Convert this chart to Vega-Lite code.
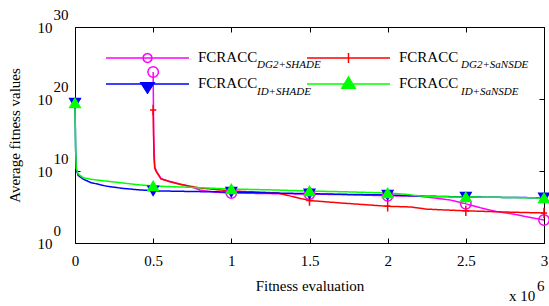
{
  "$schema": "https://vega.github.io/schema/vega-lite/v6.json",
  "width": 469,
  "height": 216,
  "autosize": {"type": "none"},
  "padding": {"left": 75, "top": 27, "right": 5, "bottom": 63},
  "background": "white",
  "config": {
    "view": {"stroke": "black", "strokeWidth": 1},
    "font": "Liberation Serif",
    "axis": {"labelFont": "Liberation Serif", "titleFont": "Liberation Serif", "labelColor": "black", "titleColor": "black", "tickColor": "black", "grid": false, "domain": false, "labelFontSize": 15, "titleFontSize": 15, "titleFontWeight": "normal", "tickSize": -5, "tickWidth": 1},
    "legend": {"labelFont": "Liberation Serif", "labelColor": "black"}
  },
  "datasets": {
    "curves": [
      {"series": "DG2+SHADE", "x": 500000, "y": 5.62e23},
      {"series": "DG2+SHADE", "x": 503000, "y": 1e15},
      {"series": "DG2+SHADE", "x": 510000, "y": 3.98e10},
      {"series": "DG2+SHADE", "x": 520000, "y": 1e10},
      {"series": "DG2+SHADE", "x": 550000, "y": 8.91e8},
      {"series": "DG2+SHADE", "x": 600000, "y": 3.98e8},
      {"series": "DG2+SHADE", "x": 670000, "y": 1.58e8},
      {"series": "DG2+SHADE", "x": 750000, "y": 5.62e7},
      {"series": "DG2+SHADE", "x": 800000, "y": 2.24e7},
      {"series": "DG2+SHADE", "x": 900000, "y": 1.12e7},
      {"series": "DG2+SHADE", "x": 1000000, "y": 8.71e6},
      {"series": "DG2+SHADE", "x": 1250000, "y": 7.24e6},
      {"series": "DG2+SHADE", "x": 1500000, "y": 6.31e6},
      {"series": "DG2+SHADE", "x": 1750000, "y": 5.01e6},
      {"series": "DG2+SHADE", "x": 2000000, "y": 3.63e6},
      {"series": "DG2+SHADE", "x": 2200000, "y": 3.16e6},
      {"series": "DG2+SHADE", "x": 2300000, "y": 1.78e6},
      {"series": "DG2+SHADE", "x": 2400000, "y": 9.33e5},
      {"series": "DG2+SHADE", "x": 2500000, "y": 2.82e5},
      {"series": "DG2+SHADE", "x": 2600000, "y": 7.08e4},
      {"series": "DG2+SHADE", "x": 2700000, "y": 2.24e4},
      {"series": "DG2+SHADE", "x": 2800000, "y": 1.07e4},
      {"series": "DG2+SHADE", "x": 2900000, "y": 3.98e3},
      {"series": "DG2+SHADE", "x": 3000000, "y": 1.55e3},
      {"series": "DG2+SaNSDE", "x": 500000, "y": 2.95e18},
      {"series": "DG2+SaNSDE", "x": 505000, "y": 1e12},
      {"series": "DG2+SaNSDE", "x": 510000, "y": 2.51e10},
      {"series": "DG2+SaNSDE", "x": 520000, "y": 7.94e9},
      {"series": "DG2+SaNSDE", "x": 550000, "y": 7.94e8},
      {"series": "DG2+SaNSDE", "x": 600000, "y": 3.55e8},
      {"series": "DG2+SaNSDE", "x": 670000, "y": 1.41e8},
      {"series": "DG2+SaNSDE", "x": 800000, "y": 4.37e7},
      {"series": "DG2+SaNSDE", "x": 1000000, "y": 1.66e7},
      {"series": "DG2+SaNSDE", "x": 1200000, "y": 1.12e7},
      {"series": "DG2+SaNSDE", "x": 1300000, "y": 8.71e6},
      {"series": "DG2+SaNSDE", "x": 1400000, "y": 2.51e6},
      {"series": "DG2+SaNSDE", "x": 1500000, "y": 7.94e5},
      {"series": "DG2+SaNSDE", "x": 1700000, "y": 3.63e5},
      {"series": "DG2+SaNSDE", "x": 2000000, "y": 1.26e5},
      {"series": "DG2+SaNSDE", "x": 2150000, "y": 1e5},
      {"series": "DG2+SaNSDE", "x": 2250000, "y": 5.01e4},
      {"series": "DG2+SaNSDE", "x": 2500000, "y": 2.95e4},
      {"series": "DG2+SaNSDE", "x": 2750000, "y": 2e4},
      {"series": "DG2+SaNSDE", "x": 3000000, "y": 1.48e4},
      {"series": "ID+SHADE", "x": 0, "y": 2.75e19},
      {"series": "ID+SHADE", "x": 4000, "y": 1e13},
      {"series": "ID+SHADE", "x": 8000, "y": 1.58e10},
      {"series": "ID+SHADE", "x": 20000, "y": 2.51e9},
      {"series": "ID+SHADE", "x": 50000, "y": 7.94e8},
      {"series": "ID+SHADE", "x": 100000, "y": 2.51e8},
      {"series": "ID+SHADE", "x": 200000, "y": 7.94e7},
      {"series": "ID+SHADE", "x": 300000, "y": 3.98e7},
      {"series": "ID+SHADE", "x": 400000, "y": 2.51e7},
      {"series": "ID+SHADE", "x": 500000, "y": 1.78e7},
      {"series": "ID+SHADE", "x": 750000, "y": 1.41e7},
      {"series": "ID+SHADE", "x": 1000000, "y": 1.2e7},
      {"series": "ID+SHADE", "x": 1250000, "y": 8.91e6},
      {"series": "ID+SHADE", "x": 1500000, "y": 7.08e6},
      {"series": "ID+SHADE", "x": 1750000, "y": 5.62e6},
      {"series": "ID+SHADE", "x": 2000000, "y": 4.68e6},
      {"series": "ID+SHADE", "x": 2250000, "y": 3.16e6},
      {"series": "ID+SHADE", "x": 2500000, "y": 2.51e6},
      {"series": "ID+SHADE", "x": 2750000, "y": 2.14e6},
      {"series": "ID+SHADE", "x": 3000000, "y": 1.91e6},
      {"series": "ID+SaNSDE", "x": 0, "y": 2.75e19},
      {"series": "ID+SaNSDE", "x": 4000, "y": 1e13},
      {"series": "ID+SaNSDE", "x": 8000, "y": 2.51e10},
      {"series": "ID+SaNSDE", "x": 20000, "y": 3.98e9},
      {"series": "ID+SaNSDE", "x": 50000, "y": 1.26e9},
      {"series": "ID+SaNSDE", "x": 100000, "y": 7.08e8},
      {"series": "ID+SaNSDE", "x": 200000, "y": 3.98e8},
      {"series": "ID+SaNSDE", "x": 300000, "y": 2.24e8},
      {"series": "ID+SaNSDE", "x": 400000, "y": 1.26e8},
      {"series": "ID+SaNSDE", "x": 500000, "y": 8.32e7},
      {"series": "ID+SaNSDE", "x": 750000, "y": 5.25e7},
      {"series": "ID+SaNSDE", "x": 1000000, "y": 3.16e7},
      {"series": "ID+SaNSDE", "x": 1250000, "y": 2.4e7},
      {"series": "ID+SaNSDE", "x": 1500000, "y": 1.66e7},
      {"series": "ID+SaNSDE", "x": 1750000, "y": 1.26e7},
      {"series": "ID+SaNSDE", "x": 2000000, "y": 8.71e6},
      {"series": "ID+SaNSDE", "x": 2100000, "y": 6.31e6},
      {"series": "ID+SaNSDE", "x": 2200000, "y": 3.55e6},
      {"series": "ID+SaNSDE", "x": 2300000, "y": 2.63e6},
      {"series": "ID+SaNSDE", "x": 2500000, "y": 2.45e6},
      {"series": "ID+SaNSDE", "x": 2750000, "y": 2.14e6},
      {"series": "ID+SaNSDE", "x": 3000000, "y": 1.78e6}
    ]
  },
  "layer": [
    {
      "data": {"name": "curves"},
      "mark": {"type": "line", "strokeWidth": 1.5},
      "encoding": {
        "x": {"field": "x", "type": "quantitative", "scale": {"domain": [0, 3000000], "nice": false, "zero": false},
          "axis": {"orient": "bottom", "values": [0, 500000, 1000000, 1500000, 2000000, 2500000, 3000000], "labelExpr": "'' + datum.value / 1000000", "labelPadding": 15, "labelFlush": false, "title": "Fitness evaluation", "titlePadding": 10}},
        "y": {"field": "y", "type": "quantitative", "scale": {"type": "log", "domain": [1, 1e30], "nice": false},
          "axis": {"orient": "left", "values": [1, 1e10, 1e20, 1e30], "labelExpr": "'10'", "labelPadding": 28, "title": "Average fitness values", "titlePadding": 15}},
        "stroke": {"field": "series", "type": "nominal",
          "scale": {"domain": ["DG2+SHADE", "DG2+SaNSDE", "ID+SHADE", "ID+SaNSDE"], "range": ["#ff00ff", "#ff0000", "#0000ff", "#00ff00"]},
          "legend": {"orient": "none", "direction": "horizontal", "legendX": 30, "legendY": 21, "title": null, "columns": 2, "columnPadding": 48, "rowPadding": 6, "clipHeight": 20,
            "symbolSize": 6889, "symbolStrokeWidth": 1.5, "labelExpr": "'FCRACC'", "labelFontSize": 15, "labelOffset": 8,
            "encode": {
              "symbols": {"update": {
                "size": {"value": 6889},
                "shape": {"signal": "datum.value === 'DG2+SHADE' ? 'M-1,0L1,0M0.108,0L0.0935,0.054L0.054,0.0935L0,0.108L-0.054,0.0935L-0.0935,0.054L-0.108,0L-0.0935,-0.054L-0.054,-0.0935L0,-0.108L0.054,-0.0935L0.0935,-0.054Z' : datum.value === 'DG2+SaNSDE' ? 'M-1,0L1,0M0,-0.12L0,0.12' : datum.value === 'ID+SHADE' ? 'M-1,0L1,0M-0.16,-0.03L0.16,-0.03L0,0.22Z' : 'M-1,0L1,0M-0.16,0.1L0.16,0.1L0,-0.17Z'"},
                "fill": {"signal": "datum.value === 'ID+SHADE' ? '#0000ff' : datum.value === 'ID+SaNSDE' ? '#00ff00' : 'transparent'"}
              }},
              "labels": {"update": {"dy": {"value": -1}}}
            }}},
        "strokeDash": {"field": "series", "type": "nominal", "scale": {"range": [[1, 0], [1, 0], [1, 0], [1, 0]]},
          "legend": {"orient": "none", "direction": "horizontal", "legendX": 171, "legendY": 28, "title": null, "columns": 2, "columnPadding": 129, "rowPadding": 7, "clipHeight": 20,
            "symbolSize": 0, "symbolOpacity": 0, "symbolStrokeWidth": 0, "labelOffset": 0, "labelFontSize": 11, "labelFontStyle": "italic"}}
      }
    },
    {
      "data": {"name": "curves"},
      "transform": [{"filter": "indexof([0, 500000, 1000000, 1500000, 2000000, 2500000, 3000000], datum.x) >= 0"}],
      "mark": {"type": "point", "strokeWidth": 1.5, "size": 110, "opacity": 1},
      "encoding": {
        "x": {"field": "x", "type": "quantitative", "axis": {"orient": "top", "values": [0, 500000, 1000000, 1500000, 2000000, 2500000, 3000000], "labels": false, "title": null}},
        "y": {"field": "y", "type": "quantitative", "axis": {"orient": "left", "values": [1, 1e10, 1e20, 1e30], "ticks": false, "labelExpr": "'' + round(log(datum.value) / LN10)", "labelAlign": "left", "labelPadding": 22, "labelOffset": -13, "title": null}},
        "stroke": {"field": "series", "type": "nominal"},
        "fill": {"field": "series", "type": "nominal", "scale": {"range": ["transparent", "transparent", "#0000ff", "#00ff00"]}, "legend": null},
        "shape": {"field": "series", "type": "nominal", "scale": {"range": ["circle", "M-0.6,0L0.6,0M0,-1L0,1", "triangle-down", "triangle-up"]}, "legend": null}
      }
    },
    {
      "data": {"values": [{"t": "x 10"}]},
      "mark": {"type": "text", "align": "left", "baseline": "alphabetic", "dx": -35, "dy": 58, "fontSize": 15, "font": "Liberation Serif", "color": "black"},
      "encoding": {
        "x": {"datum": 3000000, "type": "quantitative", "axis": null},
        "y": {"datum": 1, "type": "quantitative", "axis": {"orient": "right", "values": [1, 1e10, 1e20, 1e30], "labels": false, "title": null}},
        "text": {"field": "t"}
      }
    },
    {
      "data": {"values": [{"t": "6"}]},
      "mark": {"type": "text", "align": "left", "baseline": "middle", "dx": -7, "dy": 43, "fontSize": 15, "font": "Liberation Serif", "color": "black"},
      "encoding": {
        "x": {"datum": 3000000, "type": "quantitative", "axis": null},
        "y": {"datum": 1, "type": "quantitative", "axis": null},
        "text": {"field": "t"}
      }
    }
  ],
  "resolve": {"axis": {"x": "independent", "y": "independent"}}
}
